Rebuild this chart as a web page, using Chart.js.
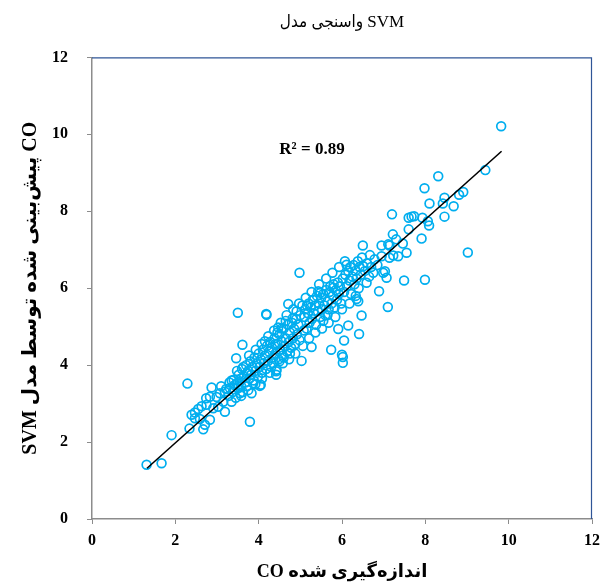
<!DOCTYPE html>
<html><head><meta charset="utf-8">
<script src="https://cdn.jsdelivr.net/npm/chart.js@4"></script>
<style>html,body{margin:0;padding:0;background:#fff}#wrap{width:611px;height:583px}</style>
</head><body><div id="wrap"><canvas id="c" width="611" height="583"></canvas></div>
<script>
const chartTitle = 'واسنجی مدل SVM';
const xAxisTitle = 'CO اندازه‌گیری شده';
const yAxisTitle = '\u202BCO پیش‌بینی شده توسط مدل SVM\u202C';
const axisMin = 0, axisMax = 12, axisStep = 2;
const rSquaredLabel = 'R² = 0.89';
const rSquaredAt = [5.28, 9.61];

const measuredCO = [
  1.31,1.67,1.91,2.29,2.34,2.67,2.71,2.83,3.79,2.39,
  2.47,2.55,2.63,2.75,2.47,2.59,2.87,2.74,2.83,2.99,
  3.07,3.19,3.31,3.47,3.59,3.71,3.19,3.03,2.91,3.35,
  3.87,3.83,3.55,3.10,3.15,3.22,3.28,3.30,3.38,3.40,
  3.42,3.45,3.50,3.52,3.55,3.58,3.60,3.62,3.65,3.68,
  3.70,3.72,3.75,3.78,3.80,3.82,3.85,3.88,3.90,3.92,
  3.95,3.98,4.00,4.02,4.05,4.08,4.10,4.12,4.15,4.18,
  4.20,3.46,3.61,3.50,4.03,4.05,4.22,4.25,4.28,4.30,
  4.32,4.35,4.38,4.40,4.42,4.43,4.42,4.45,4.48,4.50,
  4.52,4.55,4.58,4.60,4.62,4.65,4.68,4.70,4.72,4.75,
  4.78,4.80,4.82,4.85,4.88,4.90,4.92,4.95,4.98,5.00,
  4.19,4.18,4.71,4.91,4.98,4.55,4.65,4.45,4.35,4.60,
  4.40,4.50,4.75,5.03,5.27,5.05,5.08,5.10,5.12,5.15,
  5.18,5.20,5.22,5.25,5.28,5.30,5.32,5.35,5.38,5.40,
  5.43,5.42,5.45,5.48,5.50,5.52,5.55,5.58,5.60,5.62,
  5.65,5.68,5.70,5.72,5.75,5.78,5.79,5.80,5.82,5.85,
  5.88,5.90,5.92,5.95,5.98,5.91,5.74,5.55,5.65,6.00,
  6.02,6.02,6.05,6.15,6.41,6.47,6.35,6.39,6.07,6.11,
  6.02,6.05,6.08,6.12,6.15,6.18,6.20,6.22,6.25,6.28,
  6.30,6.32,6.35,6.38,6.40,6.42,6.45,6.48,6.50,6.51,
  6.55,6.59,6.60,6.67,6.65,6.70,6.75,6.78,6.85,6.89,
  6.95,6.95,6.99,7.03,7.07,7.10,7.11,7.14,7.14,7.22,
  7.20,7.23,7.30,7.35,7.46,7.49,7.55,7.60,7.60,7.67,
  7.73,7.91,7.93,7.98,7.99,8.06,8.09,8.10,8.31,8.42,
  8.46,8.46,8.68,8.81,8.91,9.02,9.44,9.82,
  3.35,3.48,3.63,3.77,3.93,4.07,4.23,4.37,4.53,4.67,
  4.83,4.97,5.13,5.27,5.45,5.62,5.77,5.93,3.58,3.75,
  3.92,4.08,4.27,4.58,4.73,4.88,5.06,5.21,5.36,5.52,
  5.68,5.84,6.00,6.18,6.33,4.15,4.47,4.82,5.16,5.48
];
const predictedCO = [
  1.41,1.45,2.18,3.52,2.35,2.33,2.45,2.58,2.53,2.71,
  2.77,2.86,2.93,2.97,2.62,2.60,3.42,3.14,3.18,3.17,
  3.27,3.31,3.40,3.53,3.66,3.79,2.79,2.92,2.88,3.05,
  3.53,3.27,3.27,3.45,3.05,3.38,3.20,3.55,3.30,3.62,
  3.48,3.15,3.40,3.75,3.58,3.45,3.90,3.30,3.70,3.55,
  4.00,3.45,3.85,3.65,4.10,3.75,3.95,3.60,4.20,3.85,
  4.05,3.70,4.30,3.95,4.15,3.80,4.40,4.05,4.25,3.90,
  4.50,4.18,4.53,5.36,3.46,3.49,4.10,4.35,4.60,3.95,
  4.45,4.20,4.70,4.30,3.75,3.88,3.84,4.55,4.15,4.80,
  4.40,4.62,4.25,4.95,4.50,4.70,4.35,5.05,4.60,4.85,
  4.45,5.10,4.70,4.95,4.55,5.20,4.80,5.05,4.65,5.30,
  5.31,5.33,5.59,5.40,6.40,4.95,5.15,4.85,4.05,4.20,
  4.55,4.10,4.30,4.11,4.47,5.55,4.90,5.25,5.45,4.95,
  5.35,5.60,5.10,5.50,5.20,5.70,5.35,5.55,5.05,5.80,
  5.92,5.40,5.60,5.25,5.75,5.45,5.85,5.55,5.30,5.95,
  5.65,5.45,5.90,6.05,5.60,5.80,6.01,6.10,5.50,5.95,
  5.70,6.15,5.85,6.05,5.60,4.94,4.40,5.15,5.30,4.27,
  4.21,4.06,4.64,5.03,4.81,5.29,5.72,5.66,6.70,6.61,
  6.25,5.90,6.35,6.05,6.45,6.20,6.55,5.85,6.30,6.60,
  6.10,6.45,6.25,6.70,6.00,6.55,6.35,6.80,7.11,6.57,
  6.45,6.14,6.65,6.86,6.30,6.55,6.40,6.75,6.60,5.92,
  6.83,7.11,6.40,6.44,6.27,5.51,7.14,7.11,6.79,7.40,
  7.92,6.85,7.27,6.83,7.16,6.20,6.92,7.53,7.83,7.86,
  7.87,7.29,7.83,8.60,6.22,7.74,7.63,8.20,8.91,8.20,
  8.35,7.86,8.13,8.43,8.50,6.93,9.07,10.21,
  3.60,3.85,3.95,4.25,4.40,4.55,4.75,4.90,5.10,5.30,
  5.45,5.60,5.75,5.90,6.10,6.25,6.40,6.55,3.20,3.35,
  3.50,3.65,3.80,4.05,4.15,4.30,4.50,4.70,4.85,4.95,
  5.10,5.25,5.45,5.60,5.80,4.62,4.98,5.22,5.55,5.88
];
const trendMeasured = [1.32, 9.83];
const trendPredicted = [1.32, 9.56];

const serif = '"Liberation Serif", "Times New Roman", "DejaVu Sans Condensed", "DejaVu Sans", serif';
const serifWide = '"Liberation Serif", "Times New Roman", "DejaVu Sans", serif';

const framePlugin = {
  id: 'frame',
  afterDraw(chart) {
    const {ctx, chartArea: a, scales: {x, y}} = chart;
    ctx.save();
    ctx.strokeStyle = '#2F5597';
    ctx.lineWidth = 1.2;
    ctx.beginPath();
    ctx.moveTo(a.left, a.top + 0.5);
    ctx.lineTo(a.right - 0.5, a.top + 0.5);
    ctx.lineTo(a.right - 0.5, a.bottom);
    ctx.stroke();
    ctx.font = 'bold 17px ' + serif;
    ctx.fillStyle = '#000';
    ctx.textAlign = 'center';
    ctx.textBaseline = 'middle';
    ctx.fillText(rSquaredLabel, x.getPixelForValue(rSquaredAt[0]), y.getPixelForValue(rSquaredAt[1]));
    ctx.restore();
  }
};

const axisCommon = {
  type: 'linear', min: axisMin, max: axisMax,
  ticks: { stepSize: axisStep, color: '#000', font: { family: serif, size: 16, weight: 'bold' } },
  grid: { display: true, drawOnChartArea: false, drawTicks: true, tickLength: 5, color: '#8C8C8C' },
  border: { display: true, color: '#8C8C8C', width: 1.5 }
};

new Chart(document.getElementById('c'), {
  type: 'scatter',
  data: {
    datasets: [
      {
        type: 'line',
        data: trendMeasured.map((m, i) => ({ x: m, y: trendPredicted[i] })),
        borderColor: '#000', borderWidth: 1.6, pointRadius: 0, fill: false, showLine: true
      },
      {
        data: measuredCO.map((m, i) => ({ x: m, y: predictedCO[i] })),
        pointStyle: 'circle', pointRadius: 4.4, pointBorderWidth: 1.7,
        borderColor: '#00AEEF', backgroundColor: 'rgba(0,0,0,0)'
      }
    ]
  },
  options: {
    responsive: false, animation: false,
    layout: { padding: { left: 0, right: 19, top: 0, bottom: 0 } },
    plugins: {
      legend: { display: false },
      tooltip: { enabled: false },
      title: {
        display: true, text: chartTitle, fullSize: false, color: '#000',
        font: { family: serif, size: 17, weight: 'normal' },
        padding: { top: 12, bottom: 25 }
      }
    },
    scales: {
      x: Object.assign({}, axisCommon, {
        ticks: Object.assign({}, axisCommon.ticks, { padding: 7 }),
        title: { display: true, text: xAxisTitle, color: '#000', font: { family: serifWide, size: 18, weight: 'bold' }, padding: { top: 0, bottom: 0 } },
        afterFit(s) { s.height = 64; }
      }),
      y: Object.assign({}, axisCommon, {
        ticks: Object.assign({}, axisCommon.ticks, { padding: 19 }),
        title: { display: true, text: yAxisTitle, color: '#000', font: { family: serifWide, size: 20, weight: 'bold' }, padding: { top: 19, bottom: 0 } },
        afterFit(s) { s.width = 92; }
      })
    }
  },
  plugins: [framePlugin]
});
</script></body></html>
